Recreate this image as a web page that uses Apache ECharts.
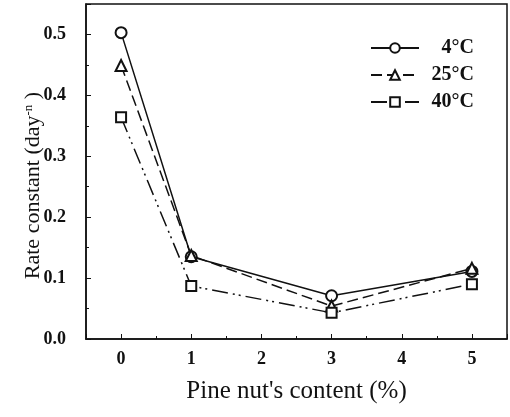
<!DOCTYPE html>
<html>
<head>
    <meta charset="utf-8">
    <title>Rate constant</title>
    <script src="https://cdn.jsdelivr.net/npm/echarts@6/dist/echarts.min.js"></script>
    <style>
        html, body { margin: 0; padding: 0; background: #fff; }
        #chart { width: 510px; height: 417px; }
    </style>
</head>
<body>
<div id="chart"></div>
<script>
    // pine nut content (%)
    let content = [0, 1, 3, 5];
    let names = ['4°C', '25°C', '40°C'];
    let rate4 = [0.503, 0.135, 0.071, 0.111];
    let rate25 = [0.449, 0.137, 0.054, 0.116];
    let rate40 = [0.364, 0.087, 0.043, 0.090];

    function pairs(ys) {
        return content.map(function (x, i) { return [x, ys[i]]; });
    }

    let serif = 'Liberation Serif, Times New Roman, serif';
    let ink = '#111';

    let myChart = echarts.init(document.getElementById('chart'));

    let option = {
        animation: false,
        backgroundColor: '#fff',
        grid: {
            left: 86,
            top: 4,
            width: 426,
            bottom: 78,
            show: true,
            borderColor: ink,
            borderWidth: 1.5
        },
        legend: {
            right: 31,
            top: 33,
            orient: 'vertical',
            itemWidth: 48,
            itemHeight: 12,
            itemGap: 7,
            formatter: function (name) { return '{t|' + name + '}'; },
            textStyle: {
                color: ink,
                rich: {
                    t: {
                        fontFamily: serif,
                        fontSize: 20,
                        fontWeight: 'bold',
                        color: ink,
                        width: 50,
                        align: 'right'
                    }
                }
            },
            data: names
        },
        xAxis: {
            type: 'value',
            min: -0.5,
            max: 5.5,
            splitNumber: 6,
            minInterval: 1,
            maxInterval: 1,
            name: "Pine nut's content (%)",
            nameLocation: 'middle',
            nameGap: 40,
            nameTextStyle: { fontFamily: serif, fontSize: 25, color: ink },
            axisLine: { onZero: false, lineStyle: { color: ink, width: 1.5 } },
            axisTick: { inside: true, length: 5, lineStyle: { color: ink } },
            minorTick: { show: true, splitNumber: 2, length: 3, lineStyle: { color: ink } },
            splitLine: { show: false },
            axisLabel: {
                margin: 11,
                fontFamily: serif,
                fontSize: 18,
                fontWeight: 'bold',
                color: ink,
                formatter: function (v) {
                    return Number.isInteger(v) ? String(v) : '';
                }
            }
        },
        yAxis: {
            type: 'value',
            min: 0,
            max: 0.55,
            interval: 0.1,
            name: 'Rate constant (day{sup|-n} )',
            nameLocation: 'middle',
            nameGap: 42,
            nameMoveOverlap: false,
            nameTextStyle: {
                fontFamily: serif,
                fontSize: 22,
                color: ink,
                padding: [0, 0, 0, -28],
                rich: {
                    sup: { fontFamily: serif, fontSize: 13, verticalAlign: 'top', color: ink }
                }
            },
            axisLine: { show: true, onZero: false, lineStyle: { color: ink, width: 1.5 } },
            axisTick: { show: true, inside: true, length: 5, lineStyle: { color: ink } },
            minorTick: { show: true, splitNumber: 2, length: 3, lineStyle: { color: ink } },
            splitLine: { show: false },
            axisLabel: {
                margin: 20,
                showMaxLabel: false,
                fontFamily: serif,
                fontSize: 18,
                fontWeight: 'bold',
                color: ink,
                formatter: function (v) { return v.toFixed(1); }
            }
        },
        series: [
            {
                name: names[0],
                type: 'line',
                data: pairs(rate4),
                symbol: 'emptyCircle',
                symbolSize: 11,
                color: ink,
                lineStyle: { color: ink, width: 1.5, type: 'solid' },
                itemStyle: { color: ink, borderColor: ink, borderWidth: 1.5 }
            },
            {
                name: names[1],
                type: 'line',
                data: pairs(rate25),
                symbol: 'emptyTriangle',
                symbolSize: 11,
                color: ink,
                lineStyle: { color: ink, width: 1.5, type: [11, 5] },
                itemStyle: { color: ink, borderColor: ink, borderWidth: 1.5 }
            },
            {
                name: names[2],
                type: 'line',
                data: pairs(rate40),
                symbol: 'emptyRect',
                symbolSize: 10,
                color: ink,
                lineStyle: { color: ink, width: 1.5, type: [16, 5, 2, 4, 2, 5] },
                itemStyle: { color: ink, borderColor: ink, borderWidth: 1.5 }
            }
        ]
    };

    myChart.setOption(option);
</script>
</body>
</html>
